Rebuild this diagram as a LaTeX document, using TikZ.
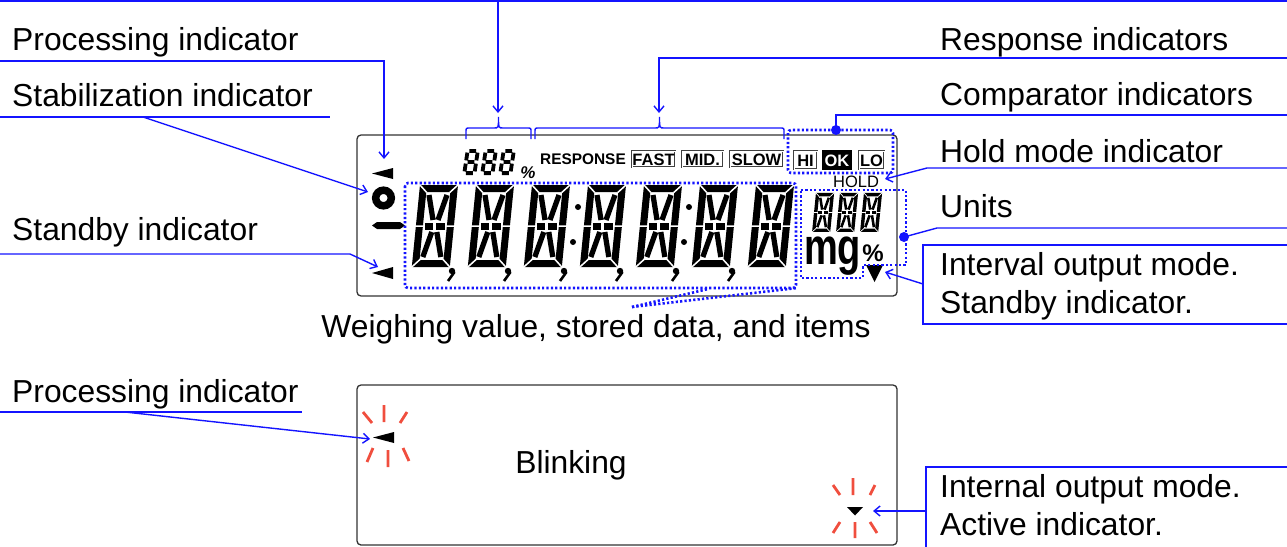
\documentclass[tikz,border=0pt]{standalone}
\usepackage{fontspec}
\setmainfont{Liberation Sans}
\usetikzlibrary{arrows.meta}
\definecolor{ablue}{RGB}{20,20,255}
\definecolor{rayred}{RGB}{240,78,62}
\newcommand{\segXIV}[4]{%
\begin{scope}[shift={(#1,#2)},scale=#3,xslant=0.1]
\draw[line width=#4, line join=miter] (3.5,3.5) rectangle (34.5,78.5);
\draw[line width=#4] (9,41)--(17.5,41) (20.5,41)--(29,41);
\draw[line width=0.75*#4]
 (10,10)--(16.5,35) (28,10)--(21.5,35) (10,72)--(16.5,47) (28,72)--(21.5,47);
\draw[white, line width=1.5pt*#3]
 (-1,-1)--(7.5,7.5) (39,-1)--(30.5,7.5) (-1,83)--(7.5,74.5) (39,83)--(30.5,74.5)
 (-1,41)--(7.8,41) (30.2,41)--(39,41);
\end{scope}}
\newcommand{\segVII}[2]{%
\begin{scope}[shift={(#1,#2)},xslant=0.15]
\draw[line width=3.8pt]
 (3.6,1.9)--(10.4,1.9) (3.6,13)--(10.4,13) (3.6,24.1)--(10.4,24.1)
 (1.9,3.6)--(1.9,11.4) (1.9,14.6)--(1.9,22.4) (12.1,3.6)--(12.1,11.4) (12.1,14.6)--(12.1,22.4);
\end{scope}}
\begin{document}
\begin{tikzpicture}[x=1pt,y=-1pt,
  lead/.style={draw=ablue, line width=1.4pt},
  arr/.style={lead, -{Straight Barb[length=6pt,width=10pt]}},
  dotbox/.style={draw=ablue, line width=2.6pt, dash pattern=on 2.2pt off 2.2pt},
  lbl/.style={font=\fontsize{31.8}{38}\selectfont, inner sep=0pt, anchor=base west},
  frame/.style={draw=black!80, line width=1.3pt, rounded corners=4pt},
  ray/.style={draw=rayred, line width=2.8pt},
  lcdtxt/.style={font=\fontsize{16.5}{17}\selectfont\bfseries, inner sep=0pt},
  dblbox/.style={draw=black!75, line width=2.2pt},
  dblin/.style={draw=white, line width=0.6pt}
]
\useasboundingbox (0,0) rectangle (1287,546);

% ---------- displays ----------
\draw[frame] (357,135) rectangle (897,296);
\draw[frame] (357,385) rectangle (897,545);

% left symbols
\fill (372,173.5) -- (393,168) -- (393,179) -- cycle;
\draw[line width=7.5pt] (383.5,198) circle (7.8pt);
\fill (372,225.5) -- (377,222) -- (400,222) -- (405,225.5) -- (400,229) -- (377,229) -- cycle;
\fill (372,273) -- (393,267) -- (393,279) -- cycle;

% big digits
\foreach \i in {0,...,6} {\segXIV{420+56*\i}{185}{1}{7pt}}
\foreach \i in {0,...,5} {
  \fill (452+56*\i,271) circle (3.2pt);
  \draw[line width=2.6pt] (454.5+56*\i,272) -- (448+56*\i,281);
}
\fill (578,207) circle (3pt) (573,242) circle (3pt) (689,207) circle (3pt) (684,242) circle (3pt);

% top row
\foreach \i in {0,1,2} {\segVII{466+18*\i}{149}}
\node[font=\fontsize{17}{17}\selectfont\bfseries\itshape, inner sep=0pt, anchor=base] (pcta) at (528,178) {\%};
\node[font=\fontsize{15.4}{16}\selectfont\bfseries, inner sep=0pt, anchor=base west] (resp) at (540,164) {RESPONSE};
\draw[dblbox, line width=1.8pt] (632,151) rectangle (675,167); \draw[dblin, line width=0.5pt] (632,151) rectangle (675,167);
\node[lcdtxt] (fast) at (653.5,159.5) {FAST};
\draw[dblbox, line width=1.8pt] (682,151) rectangle (723,167); \draw[dblin, line width=0.5pt] (682,151) rectangle (723,167);
\node[lcdtxt] (mid) at (702.5,159.5) {MID.};
\draw[dblbox, line width=1.8pt] (730,151) rectangle (783,167); \draw[dblin, line width=0.5pt] (730,151) rectangle (783,167);
\node[lcdtxt] (slow) at (756.5,159.5) {SLOW};

% comparator
\draw[dblbox] (794,151) rectangle (817,169); \draw[dblin] (794,151) rectangle (817,169);
\node[lcdtxt] (hi) at (805.5,160.5) {HI};
\fill (822,150) rectangle (852,170);
\node[lcdtxt, text=white] (ok) at (837,160.5) {OK};
\draw[dblbox] (859,151) rectangle (884,169); \draw[dblin] (859,151) rectangle (884,169);
\node[lcdtxt] (lo) at (871.5,160.5) {LO};
\node[font=\fontsize{16.5}{17}\selectfont, inner sep=0pt, anchor=base west] (hold) at (833,187) {HOLD};

% units
\foreach \i in {0,1,2} {\segXIV{816+24*\i}{193}{0.475}{3.4pt}}
\node[font=\fontsize{38}{40}\selectfont\bfseries, inner sep=0pt, anchor=base west, yscale=1.35] (mg) at (804,264) {mg};
\node[font=\fontsize{24}{24}\selectfont\bfseries, inner sep=0pt] (pctb) at (873,253) {\%};
\fill (866,265) -- (883,265) -- (874.5,282) -- cycle;

% dotted groups
\draw[dotbox, rounded corners=3pt] (405,183) rectangle (796,288);
\draw[dotbox, rounded corners=3pt] (788,130) rectangle (893,173);
\draw[dotbox] (801,190) -- (906,190) -- (906,265) -- (863,265) -- (863,278) -- (801,278) -- cycle;
\draw[dotbox] (632,307) -- (708,289);
\draw[dotbox] (632,307) -- (797,288);

% bottom display
\fill (373,437.5) -- (394,432) -- (394,443) -- cycle;
\draw[ray] (384,405) -- (384,422) (363,412) -- (372,423) (407,412) -- (400,423)
           (367,462) -- (373,448) (388,450) -- (388,467) (403,448) -- (409,461);
\fill (847,507) -- (863,507) -- (855,515.5) -- cycle;
\draw[ray] (853,478) -- (853,495) (833,485) -- (840,495) (875,485) -- (870,495)
           (833,533) -- (840,522) (855,522) -- (855,538) (870,522) -- (877,533);
\node[font=\fontsize{31.8}{38}\selectfont, inner sep=0pt, anchor=base] (blink) at (571,473) {Blinking};

% ---------- labels ----------
\node[lbl] (proc) at (12,50) {Processing indicator};
\node[lbl] (stab) at (12,106) {Stabilization indicator};
\node[lbl] (stby) at (12,240) {Standby indicator};
\node[lbl] (procb) at (12,402) {Processing indicator};
\node[lbl] (respl) at (940,50) {Response indicators};
\node[lbl] (compl) at (940,105) {Comparator indicators};
\node[lbl] (holdl) at (940,162) {Hold mode indicator};
\node[lbl] (unitl) at (940,217) {Units};
\node[lbl] (intv1) at (940,275) {Interval output mode.};
\node[lbl] (intv2) at (940,313) {Standby indicator.};
\node[lbl] (intn1) at (940,497) {Internal output mode.};
\node[lbl] (intn2) at (940,535) {Active indicator.};
\node[font=\fontsize{31.8}{38}\selectfont, inner sep=0pt, anchor=base] (weigh) at (596,337) {Weighing value, stored data, and items};

% boxes round right labels
\draw[lead] (1292,245) -- (923,245) -- (923,324) -- (1292,324);
\draw[lead] (1292,467) -- (926,467) -- (926,550);

% ---------- connectors ----------
\coordinate (tA) at (498,113);
\coordinate (tB) at (659,113);
\coordinate (tProc) at (384,159);
\coordinate (tStab) at (368,192);
\coordinate (tStby) at (378,267);
\coordinate (tProcb) at (370,439);
\coordinate (tComp) at (836,130);
\coordinate (tHold) at (885,179);
\coordinate (tUnit) at (904,237);
\coordinate (tIntv) at (885,272);
\coordinate (tIntn) at (873,511);

\draw[lead] (0,1) -- (1287,1);
\draw[arr] (498,1) -- (tA);
% braces
\draw[lead] (466,139) -- (466,132) .. controls (466,128) .. (470,128) -- (494,128) .. controls (498.5,128) .. (498.5,117)
            .. controls (498.5,128) .. (503,128) -- (527,128) .. controls (531,128) .. (531,132) -- (531,139);
\draw[lead] (535,139) -- (535,132) .. controls (535,128) .. (539,128) -- (655,128) .. controls (659.5,128) .. (659.5,117)
            .. controls (659.5,128) .. (664,128) -- (780,128) .. controls (784,128) .. (784,132) -- (784,139);

\draw[arr] (1287,58) -- (659,58) -- (tB);
\draw[lead] (1287,115) -- (836,115) -- (tComp);
\fill[ablue] (tComp) circle (5pt);
\draw[arr] (1287,168) -- (927,168) -- (tHold);
\draw[lead] (1287,228) -- (937,228) -- (tUnit);
\fill[ablue] (tUnit) circle (5pt);
\draw[arr] (923,284) -- (tIntv);
\draw[arr] (926,511) -- (tIntn);

\draw[arr] (0,61) -- (384,61) -- (tProc);
\draw[lead] (0,117) -- (330,117);
\draw[arr] (143,117) -- (tStab);
\draw[arr] (0,254) -- (350,254) -- (tStby);
\draw[lead] (0,412) -- (302,412);
\draw[arr] (125,412) -- (tProcb);
\end{tikzpicture}
\end{document}
